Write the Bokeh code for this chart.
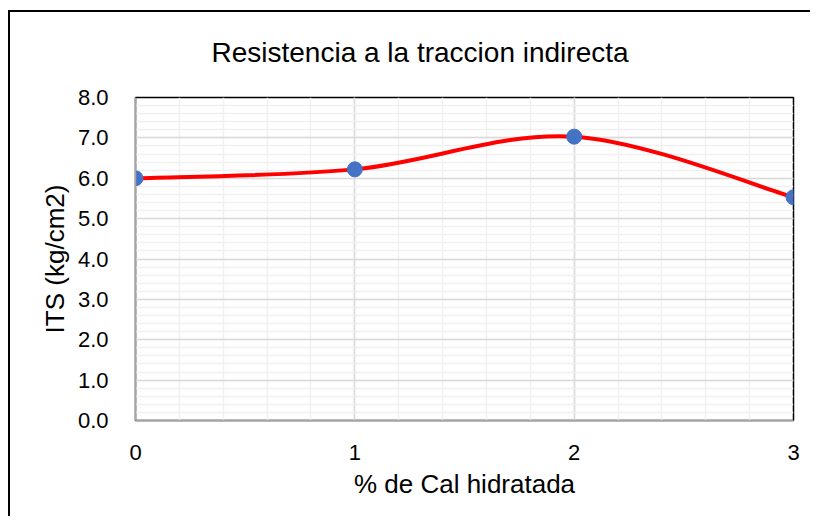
from bokeh.plotting import figure
from bokeh.models import SingleIntervalTicker, NumeralTickFormatter, Range1d, ColumnDataSource, Title
from bokeh.embed import file_html
from bokeh.resources import INLINE

# ---- data ----
cal_pct = [0, 1, 2, 3]
its_values = [6.0, 6.22, 7.03, 5.53]
title_text = "Resistencia a la traccion indirecta"
x_label = "% de Cal hidratada"
y_label = "ITS (kg/cm2)"

FONT = "Liberation Sans"

p = figure(width=802, height=506, output_backend="svg", toolbar_location=None,
           x_range=Range1d(0, 3), y_range=Range1d(0, 8),
           min_border_left=125, min_border_right=19, min_border_top=85, min_border_bottom=98)
p.styles = {"border-left": "2px solid black", "border-top": "2px solid black",
            "margin-top": "10px", "margin-left": "8px"}

# spacer between title and plot frame (empty-looking title)
p.add_layout(Title(text=" ", text_font_size="1px", standoff=22), "above")

p.title.text = title_text
p.title.text_font = FONT
p.title.text_font_size = "28px"
p.title.text_font_style = "normal"
p.title.text_color = "black"
p.title.align = "left"
p.title.vertical_align = "bottom"
p.title.offset = 76
p.title.standoff = 10

p.outline_line_color = "black"
p.outline_line_width = 1.5
p.outline_line_alpha = 1.0

# axes
for ax in (p.xaxis[0], p.yaxis[0]):
    ax.ticker = SingleIntervalTicker(interval=1, num_minor_ticks=5)
    ax.major_tick_line_color = None
    ax.minor_tick_line_color = None
    ax.axis_line_color = "#A6A6A6"
    ax.axis_line_width = 1.5
    ax.major_label_text_font = FONT
    ax.major_label_text_font_size = "22px"
    ax.major_label_text_color = "black"
    ax.axis_label_text_font = FONT
    ax.axis_label_text_font_size = "26px"
    ax.axis_label_text_font_style = "normal"
    ax.axis_label_text_color = "black"

p.yaxis[0].formatter = NumeralTickFormatter(format="0.0")
p.yaxis[0].major_label_standoff = 21
p.yaxis[0].axis_label_standoff = 5
p.xaxis[0].major_label_standoff = 18
p.xaxis[0].axis_label_standoff = 6
p.xaxis[0].axis_label = x_label
p.yaxis[0].axis_label = y_label

# grids
for g in (p.xgrid[0], p.ygrid[0]):
    g.ticker = SingleIntervalTicker(interval=1, num_minor_ticks=5)
    g.grid_line_color = "#D9D9D9"
    g.grid_line_width = 1.5
    g.minor_grid_line_color = "#F0F0F0"
    g.minor_grid_line_width = 1.5

# smoothed line (Catmull-Rom style Bezier, as Excel "smoothed line")
n = len(cal_pct)
x0s, y0s, x1s, y1s, cx0s, cy0s, cx1s, cy1s = [], [], [], [], [], [], [], []
for i in range(n - 1):
    pm_x, pm_y = (cal_pct[i - 1], its_values[i - 1]) if i > 0 else (cal_pct[i], its_values[i])
    pp_x, pp_y = (cal_pct[i + 2], its_values[i + 2]) if i + 2 < n else (cal_pct[i + 1], its_values[i + 1])
    ax_, ay_ = cal_pct[i], its_values[i]
    bx_, by_ = cal_pct[i + 1], its_values[i + 1]
    x0s.append(ax_); y0s.append(ay_); x1s.append(bx_); y1s.append(by_)
    cx0s.append(ax_ + (bx_ - pm_x) / 6.0); cy0s.append(ay_ + (by_ - pm_y) / 6.0)
    cx1s.append(bx_ - (pp_x - ax_) / 6.0); cy1s.append(by_ - (pp_y - ay_) / 6.0)

curve = ColumnDataSource(dict(x0=x0s, y0=y0s, x1=x1s, y1=y1s, cx0=cx0s, cy0=cy0s, cx1=cx1s, cy1=cy1s))
p.bezier(x0="x0", y0="y0", x1="x1", y1="y1", cx0="cx0", cy0="cy0", cx1="cx1", cy1="cy1",
         source=curve, line_color="#FF0000", line_width=4)

pts = ColumnDataSource(dict(x=cal_pct, y=its_values))
p.scatter(x="x", y="y", source=pts, size=15, marker="circle",
          fill_color="#4472C4", line_color="#4472C4")

open("out.html", "w").write(file_html(p, INLINE))
